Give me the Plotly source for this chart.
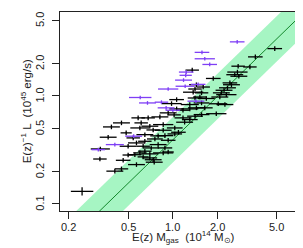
import plotly.graph_objects as go
import numpy as np

# ---- data (E(z) Mgas [1e14 Msun], E(z)^-1 L [1e45 erg/s]) ----
black_x = [4.85, 3.59, 2.75, 3.30, 2.72, 2.61, 2.78, 1.87, 2.42, 2.48, 2.33, 2.21, 2.12, 2.29,
           2.07, 1.68, 1.56, 1.52, 2.02, 1.56, 1.64, 1.96, 1.56, 1.35, 1.44, 1.60, 1.41, 1.37,
           1.06, 1.41, 0.98, 1.30, 1.06, 1.30, 1.17, 1.44, 1.17, 0.682, 0.818, 1.20, 0.612,
           0.861, 0.70, 1.03, 0.861, 1.09, 0.648, 0.884, 0.757, 0.93, 0.648, 0.796, 0.631,
           0.884, 0.648, 0.70, 0.861, 0.631, 0.737, 0.749, 0.451, 0.386, 0.60, 0.367, 0.50,
           0.569, 0.60, 0.70, 0.323, 0.569, 0.407, 0.451, 0.245, 0.485, 0.325, 0.463, 0.555,
           1.41, 1.30, 2.24, 0.93, 1.03, 0.93, 1.02, 0.796, 0.715, 0.541, 0.737, 0.584, 0.50]
black_y = [2.72, 2.28, 1.87, 1.84, 1.65, 1.56, 1.51, 1.44, 1.31, 1.26, 1.18, 1.12, 1.06, 1.02,
           0.97, 0.94, 1.06, 0.97, 0.84, 0.855, 0.77, 0.68, 0.667, 1.72, 1.26, 1.20, 1.15, 1.075,
           0.918, 0.95, 0.843, 0.826, 0.753, 0.753, 0.732, 0.77, 0.622, 0.622, 0.635, 0.567, 0.559,
           0.539, 0.521, 0.502, 0.478, 0.458, 0.435, 0.426, 0.397, 0.386, 0.378, 0.352, 0.340,
           0.328, 0.306, 0.289, 0.295, 0.271, 0.255, 0.242, 0.559, 0.513, 0.502, 0.412, 0.340,
           0.365, 0.295, 0.265, 0.259, 0.230, 0.200, 0.210, 0.130, 0.452, 0.321, 0.252, 0.284,
           0.645, 0.600, 0.826, 0.301, 0.442, 0.692, 0.663, 0.424, 0.328, 0.406, 0.481, 0.622, 0.282]
black_xerr = [0.12, 0.12, 0.11, 0.11, 0.17, 0.14, 0.14, 0.12, 0.12, 0.14, 0.14, 0.14, 0.14, 0.17,
              0.14, 0.14, 0.11, 0.11, 0.15, 0.13, 0.13, 0.17, 0.13, 0.11, 0.12, 0.11, 0.11, 0.17,
              0.12, 0.12, 0.17, 0.15, 0.12, 0.14, 0.11, 0.14, 0.14, 0.11, 0.14, 0.14, 0.11,
              0.17, 0.14, 0.13, 0.14, 0.12, 0.14, 0.14, 0.13, 0.12, 0.11, 0.14, 0.11,
              0.12, 0.11, 0.14, 0.17, 0.09, 0.14, 0.14, 0.14, 0.14, 0.16, 0.14, 0.14,
              0.14, 0.11, 0.12, 0.11, 0.14, 0.14, 0.11, 0.19, 0.09, 0.16, 0.12, 0.11,
              0.13, 0.13, 0.14, 0.09, 0.12, 0.14, 0.11, 0.13, 0.13, 0.11, 0.11, 0.11, 0.09]
black_yerr = [0.05] * len(black_x)
black_yerr[black_x.index(0.245)] = 0.09

purple_x = [2.71, 1.57, 1.64, 1.77, 1.23, 1.22, 1.18, 1.21, 1.48, 0.93, 0.603, 0.675, 0.838,
            0.901, 1.43, 1.00, 0.545, 0.407, 0.315]
purple_y = [3.14, 2.51, 2.19, 1.94, 1.65, 1.54, 1.39, 1.22, 1.27, 1.15, 0.96, 0.855, 0.869,
            0.77, 0.888, 0.732, 0.421, 0.352, 0.316]
purple_xerr = [0.12, 0.12, 0.17, 0.12, 0.12, 0.10, 0.14, 0.16, 0.12, 0.17, 0.19, 0.14, 0.11,
               0.14, 0.14, 0.12, 0.14, 0.15, 0.11]
purple_yerr = [0.04] * len(purple_x)

# relation: L = norm * M^slope, band of +/- scatter (dex)
fit_slope = 1.336
fit_norm = 0.39
fit_scatter_dex = 0.21

x_ticks = [0.2, 0.5, 1.0, 2.0, 5.0]
x_ticklabels = ["0.2", "0.5", "1.0", "2.0", "5.0"]
y_ticks = [0.1, 0.2, 0.5, 1.0, 2.0, 5.0]
y_ticklabels = ["0.1", "0.2", "0.5", "1.0", "2.0", "5.0"]
x_title = "E(z) M<sub>gas</sub>  (10<sup>14</sup> M<sub>⊙</sub>)"
y_title = "E(z)<sup>−1</sup> L  (10<sup>45</sup> erg/s)"


def errs(vals, frac):
    v = np.array(vals)
    f = np.array(frac)
    return (v * f).tolist(), (v * (1 - 1 / (1 + f))).tolist()


FONT = "Liberation Sans, Arial, Helvetica, sans-serif"
INK = "#222"

fig = go.Figure()

mx = np.logspace(-1.5, 1.5, 50)
line = fit_norm * mx ** fit_slope
hi = line * 10 ** fit_scatter_dex
lo = line / 10 ** fit_scatter_dex
fig.add_trace(go.Scatter(x=np.concatenate([mx, mx[::-1]]), y=np.concatenate([hi, lo[::-1]]),
                         fill="toself", fillcolor="#a6f5c3", line=dict(width=0),
                         mode="lines", hoverinfo="skip", showlegend=False))
fig.add_trace(go.Scatter(x=mx, y=line, mode="lines", line=dict(color="#13882c", width=1),
                         showlegend=False))

bxp, bxm = errs(black_x, black_xerr)
byp, bym = errs(black_y, black_yerr)
fig.add_trace(go.Scatter(
    x=black_x, y=black_y, mode="markers", marker=dict(size=1, color="black"),
    error_x=dict(type="data", symmetric=False, array=bxp, arrayminus=bxm, color="black",
                 thickness=1.3, width=0),
    error_y=dict(type="data", symmetric=False, array=byp, arrayminus=bym, color="black",
                 thickness=1.3, width=0),
    showlegend=False))

pxp, pxm = errs(purple_x, purple_xerr)
pyp, pym = errs(purple_y, purple_yerr)
fig.add_trace(go.Scatter(
    x=purple_x, y=purple_y, mode="markers", marker=dict(size=1, color="#7f3ff5"),
    error_x=dict(type="data", symmetric=False, array=pxp, arrayminus=pxm, color="#7f3ff5",
                 thickness=1.3, width=0),
    error_y=dict(type="data", symmetric=False, array=pyp, arrayminus=pym, color="#7f3ff5",
                 thickness=1.3, width=0),
    showlegend=False))

axis_common = dict(type="log", showgrid=False, zeroline=False, showline=True, linecolor=INK,
                   linewidth=1, mirror=True, ticks="outside", ticklen=7, tickwidth=1,
                   tickcolor=INK, automargin=False, showticklabels=False)

annotations = [
    dict(text=x_title, xref="paper", yref="paper", x=0.5, y=-0.181, xanchor="center",
         yanchor="bottom", showarrow=False, font=dict(family=FONT, size=11.5, color=INK)),
    dict(text=y_title, xref="paper", yref="paper", x=-0.139, y=0.5, xanchor="center",
         yanchor="middle", textangle=-90, showarrow=False,
         font=dict(family=FONT, size=11.5, color=INK)),
]
# tick labels (R style: y labels parallel to the axis)
for v, t in zip(x_ticks, x_ticklabels):
    annotations.append(dict(text=t, xref="x", yref="paper", x=np.log10(v), y=-0.040,
                            xanchor="center", yanchor="top",
                            showarrow=False, font=dict(family=FONT, size=11, color=INK)))
for v, t in zip(y_ticks, y_ticklabels):
    annotations.append(dict(text=t, xref="paper", yref="y", x=-0.0813, y=np.log10(v),
                            xanchor="center", yanchor="middle", textangle=-90,
                            showarrow=False, font=dict(family=FONT, size=11, color=INK)))

fig.update_layout(
    width=303, height=248,
    margin=dict(l=52, r=5, t=4, b=45, autoexpand=False),
    paper_bgcolor="white", plot_bgcolor="white",
    font=dict(family=FONT, size=11, color=INK),
    xaxis=dict(axis_common, range=[np.log10(0.174), np.log10(7.87)], tickvals=x_ticks),
    yaxis=dict(axis_common, range=[np.log10(0.0856), np.log10(5.93)], tickvals=y_ticks),
    annotations=annotations,
)

fig.write_html("out.html")
